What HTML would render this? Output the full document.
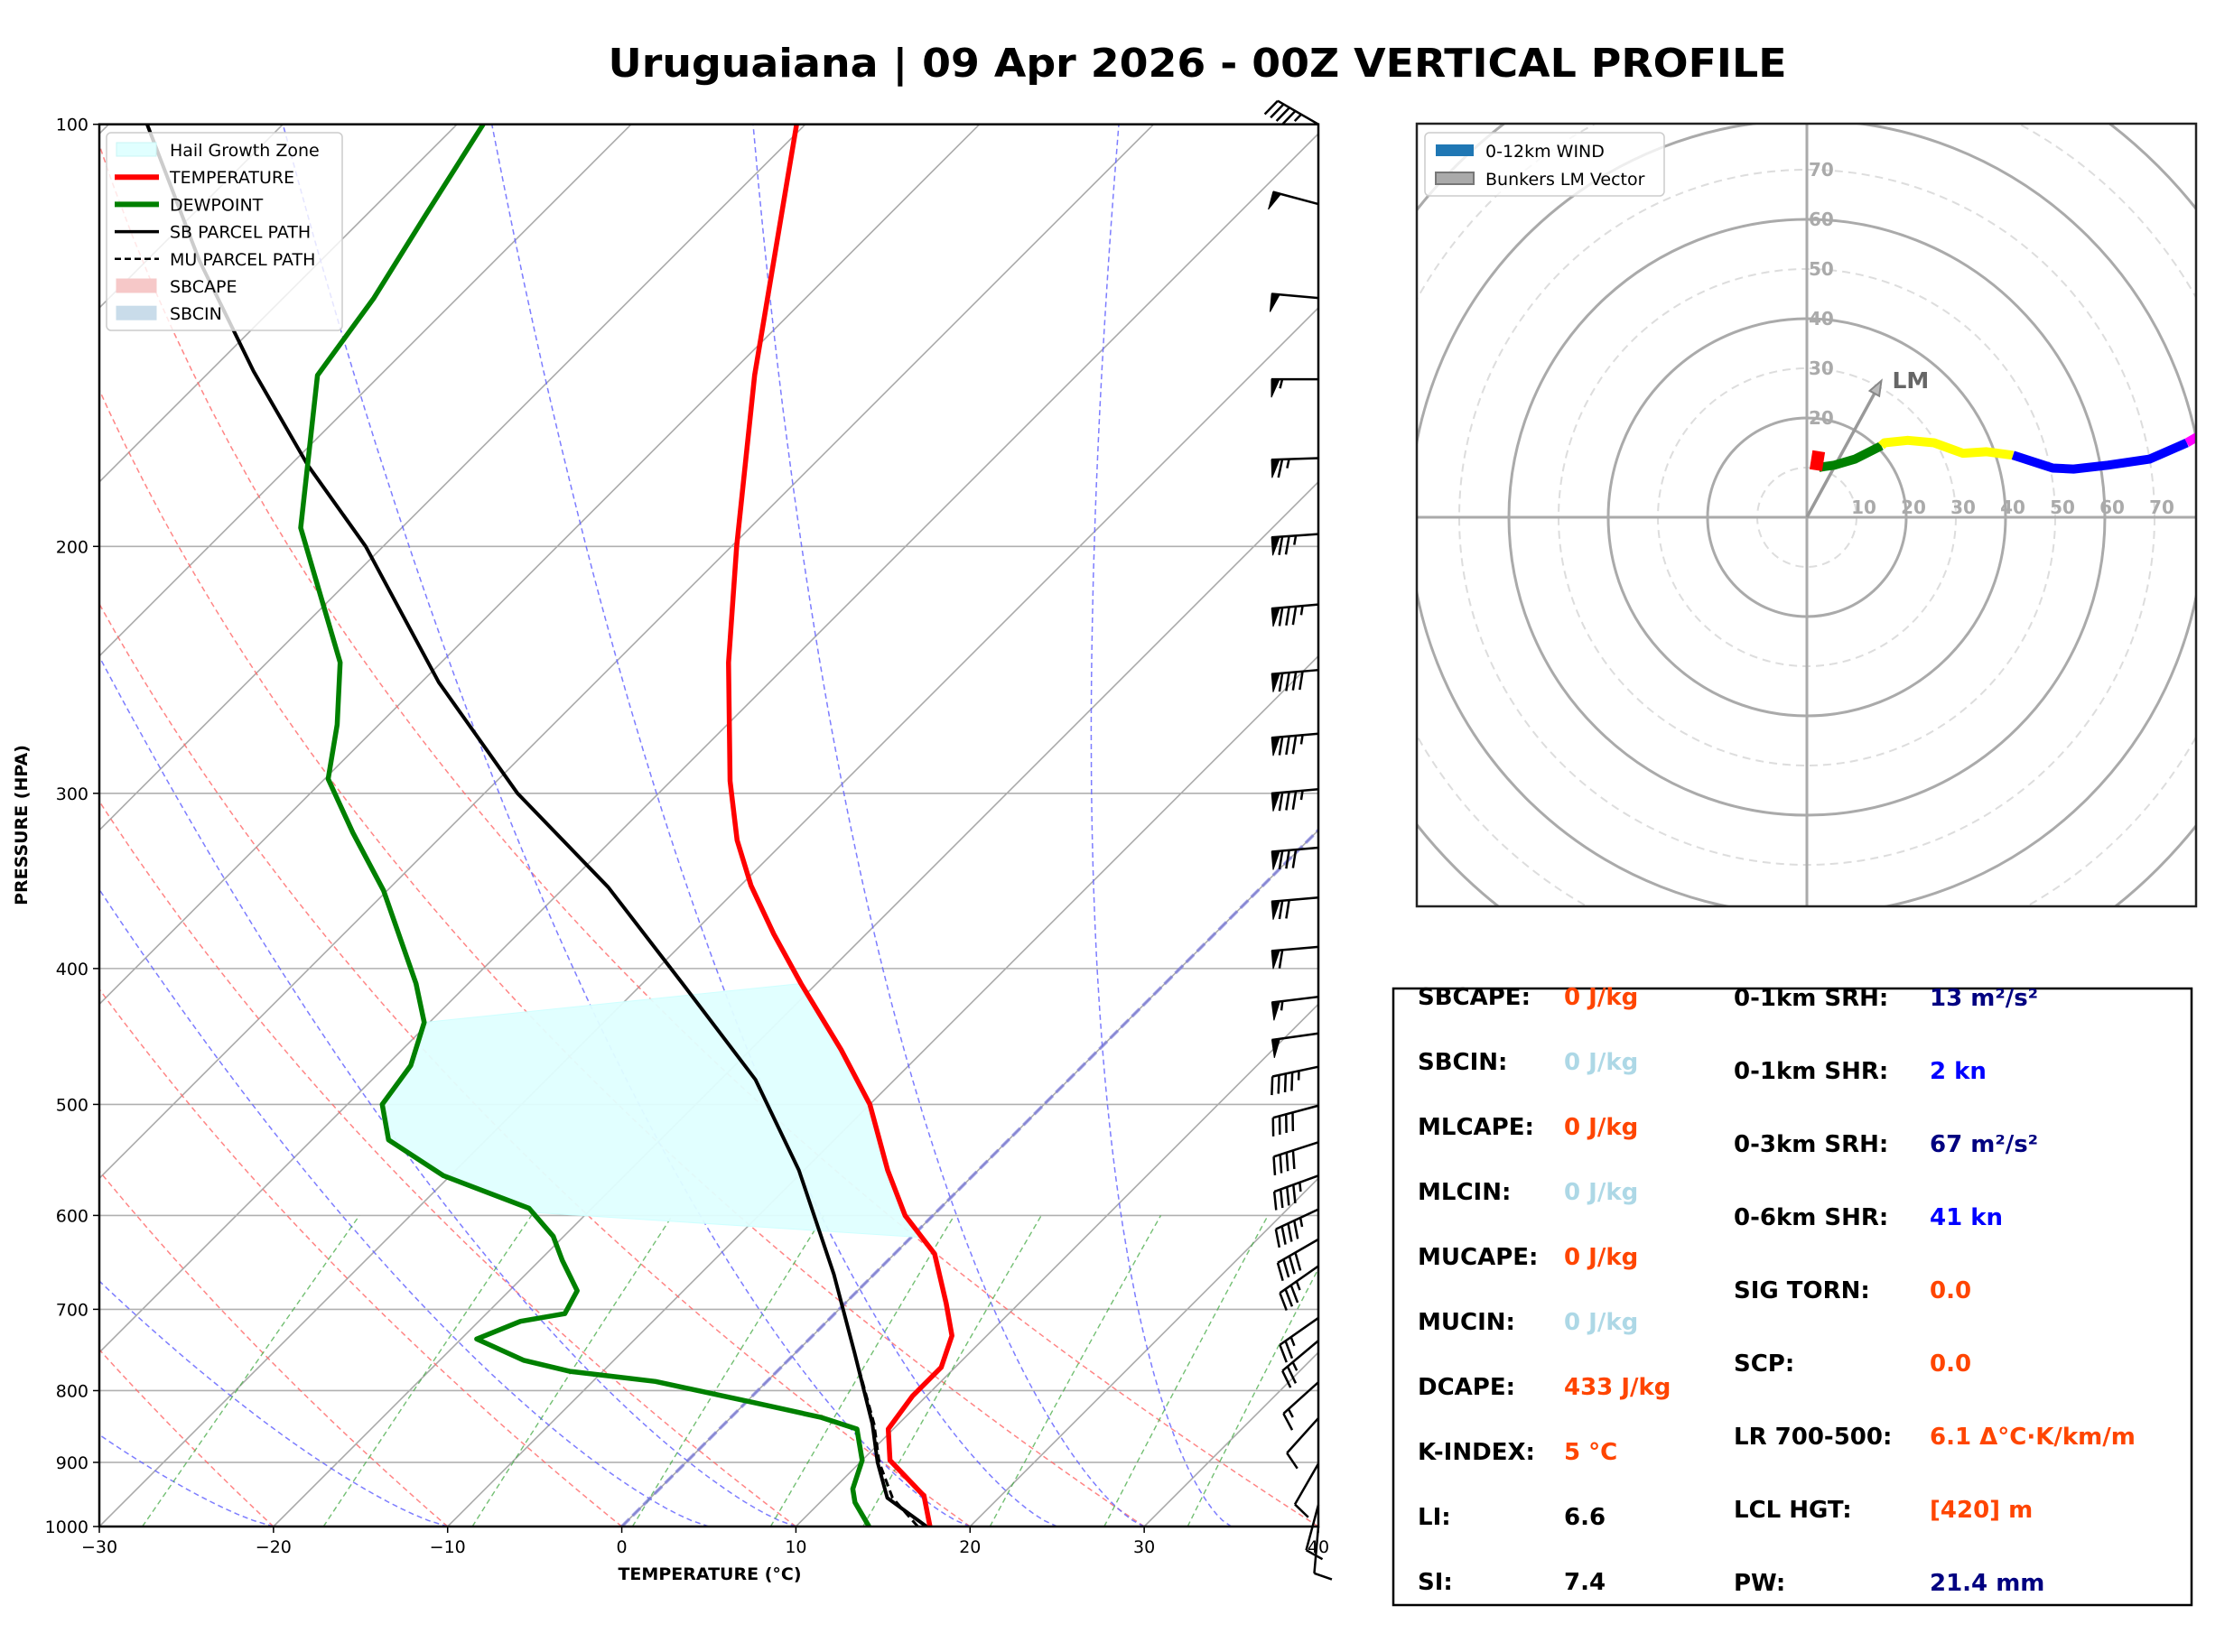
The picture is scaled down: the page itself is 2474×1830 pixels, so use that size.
<!DOCTYPE html>
<html><head><meta charset="utf-8"><style>
html,body{margin:0;padding:0;background:#fff;}
svg{display:block;font-family:"DejaVu Sans","Liberation Sans",sans-serif;}
</style></head><body>
<svg id="fig" xmlns="http://www.w3.org/2000/svg" width="2474" height="1830" viewBox="0 0 2474 1830">
<defs>
<clipPath id="skewclip"><rect x="110" y="137.7" width="1350" height="1553.3"/></clipPath>
<clipPath id="hodoclip"><rect x="1569" y="137" width="863" height="867"/></clipPath>
</defs>
<rect width="2474" height="1830" fill="#fff"/>
<text x="1326" y="85" font-size="44" font-weight="bold" text-anchor="middle" textLength="1305" lengthAdjust="spacingAndGlyphs">Uruguaiana | 09 Apr 2026 - 00Z VERTICAL PROFILE</text>
<g id="skew"></g>
<g id="hodo"></g>
<g id="stats">
<rect x="1543" y="1095" width="884" height="683" fill="none" stroke="#000" stroke-width="2.5"/>
<g font-size="26" font-weight="bold">
<text x="1570" y="1113">SBCAPE:</text><text x="1732" y="1113" fill="#ff4500">0 J/kg</text>
<text x="1570" y="1185">SBCIN:</text><text x="1732" y="1185" fill="#add8e6">0 J/kg</text>
<text x="1570" y="1257">MLCAPE:</text><text x="1732" y="1257" fill="#ff4500">0 J/kg</text>
<text x="1570" y="1329">MLCIN:</text><text x="1732" y="1329" fill="#add8e6">0 J/kg</text>
<text x="1570" y="1401">MUCAPE:</text><text x="1732" y="1401" fill="#ff4500">0 J/kg</text>
<text x="1570" y="1473">MUCIN:</text><text x="1732" y="1473" fill="#add8e6">0 J/kg</text>
<text x="1570" y="1545">DCAPE:</text><text x="1732" y="1545" fill="#ff4500">433 J/kg</text>
<text x="1570" y="1617">K-INDEX:</text><text x="1732" y="1617" fill="#ff4500">5 °C</text>
<text x="1570" y="1689">LI:</text><text x="1732" y="1689" fill="#000">6.6</text>
<text x="1570" y="1761">SI:</text><text x="1732" y="1761" fill="#000">7.4</text>
<text x="1920" y="1114">0-1km SRH:</text><text x="2137" y="1114" fill="#000080">13 m²/s²</text>
<text x="1920" y="1195">0-1km SHR:</text><text x="2137" y="1195" fill="#0000ff">2 kn</text>
<text x="1920" y="1276">0-3km SRH:</text><text x="2137" y="1276" fill="#000080">67 m²/s²</text>
<text x="1920" y="1357">0-6km SHR:</text><text x="2137" y="1357" fill="#0000ff">41 kn</text>
<text x="1920" y="1438">SIG TORN:</text><text x="2137" y="1438" fill="#ff4500">0.0</text>
<text x="1920" y="1519">SCP:</text><text x="2137" y="1519" fill="#ff4500">0.0</text>
<text x="1920" y="1600">LR 700-500:</text><text x="2137" y="1600" fill="#ff4500">6.1 Δ°C·K/km/m</text>
<text x="1920" y="1681">LCL HGT:</text><text x="2137" y="1681" fill="#ff4500">[420] m</text>
<text x="1920" y="1762">PW:</text><text x="2137" y="1762" fill="#000080">21.4 mm</text>
</g>
</g>
</svg>
<script>
// ---- Sounding data ----
const tempP = [1000,951,897,852,807,770,731,693,639,600,557,500,457,410,378,349,324,294,242,200,151,100];
const tempT = [17.7,15.6,11.6,9.7,9.2,9.2,8.0,5.8,2.3,-1.6,-5.2,-10.0,-14.8,-20.9,-25.3,-29.4,-32.8,-36.6,-43.5,-49.7,-58.5,-70.5];
const dewP = [1000,961,940,897,852,836,816,788,775,761,735,714,705,679,646,621,593,562,530,500,469,437,410,352,320,293,268,242,194,151,133,116,100];
const dewT = [14.2,12.0,11.1,10.0,7.9,5.2,0.5,-6.4,-11.9,-15.2,-19.1,-17.6,-15.5,-16.1,-18.7,-20.6,-23.6,-30.4,-35.6,-38.0,-38.6,-40.3,-43.0,-50.2,-55.3,-59.8,-62.4,-65.8,-75.8,-83.6,-84.8,-86.6,-88.5];
const parcelP = [1000,954,900,845,752,661,557,480,410,350,300,250,200,175,150,125,100];
const parcelT = [17.5,13.6,11.0,8.5,3.4,-2.3,-10.3,-18.0,-27.7,-37.5,-48.1,-59.0,-71.0,-79.0,-87.5,-97.0,-107.8];
const muParcelT = [17.0,13.9,11.1,8.6,3.4,-2.3,-10.3,-18.0,-27.7,-37.5,-48.1,-59.0,-71.0,-79.0,-87.5,-97.0,-107.8];
const hailTop = [437,410];
const hailBottom = [597,622];
const barbP = [100,114,133,152,173,196,220,245,272,298,328,356,386,419,445,470,501,532,562,594,624,652,710,737,789,837,902,965,1000];
const barbSpd = [45,50,50,55,65,75,85,90,85,85,80,70,60,55,50,45,40,40,45,45,40,35,25,25,15,10,10,10,10];
const barbDir = [300,285,275,270,268,266,265,265,265,265,265,265,265,263,262,258,255,252,250,245,240,235,235,230,228,222,210,195,185];
const pTicks = [100,200,300,400,500,600,700,800,900,1000];
const tTicks = [-30,-20,-10,0,10,20,30,40];
const moistT0 = [35,30,25,20,10,5,-10,-20];
const moistTop = [-52,-73,-88,-100,-125,-135,-160,-175];
// ---- Hodograph data (kt) ----
const hodoRedU = [1.8,2.4];
const hodoRedV = [9.5,13.3];
const hodoGreenU = [2.4,3.4,5.5,9.7,15.0];
const hodoGreenV = [10.0,10.2,10.5,11.7,14.4];
const hodoYellowU = [15.0,15.6,20.3,25.6,31.4,36.2,41.5];
const hodoYellowV = [14.4,15.0,15.5,15.0,12.9,13.2,12.5];
const hodoBlueU = [41.5,49.5,53.7,60.6,69.0,76.5];
const hodoBlueV = [12.5,9.9,9.7,10.5,11.7,15.0];
const hodoMagU = [76.5,79.6,84];
const hodoMagV = [15.0,16.8,19];
const lmU = 15.0, lmV = 27.5;
const ringKt = [10,20,30,40,50,60,70,80,90,100];

const NS='http://www.w3.org/2000/svg';
function mk(tag, attrs, parent){const e=document.createElementNS(NS,tag);for(const k in attrs)e.setAttribute(k,attrs[k]);parent.appendChild(e);return e;}
const X0=110,X1=1460,Y0=137.7,Y1=1691;
function yP(p){return Y1-Math.log10(1000/p)*(Y1-Y0);}
function xT(T,p){return X0+(T+30)/70*(X1-X0)+(Y1-yP(p));}
function pathFrom(ps,ts){return ps.map((p,i)=>(i?'L':'M')+xT(ts[i],p).toFixed(1)+','+yP(p).toFixed(1)).join('');}
function interp(ps,ts,p){for(let i=0;i<ps.length-1;i++){const a=ps[i],b=ps[i+1];if((p<=a&&p>=b)){const f=Math.log(p/a)/Math.log(b/a);return ts[i]+f*(ts[i+1]-ts[i]);}}return ts[ts.length-1];}

const skew=document.getElementById('skew');
const clipG=mk('g',{'clip-path':'url(#skewclip)'},skew);


for(const p of pTicks){const l=mk('line',{x1:X0,x2:X1,y1:yP(p),y2:yP(p),stroke:'#b0b0b0','stroke-width':1.6},clipG);

}
for(let T=-130;T<=40;T+=10){const l=mk('line',{x1:xT(T,1000),y1:Y1,x2:xT(T,100),y2:Y0,stroke:'#aaaaaa','stroke-width':1.6},clipG);

}
for(let th=-30;th<=40;th+=10){let d='';for(let p=1000;p>=100;p-=10){const T=(th+273.15)*Math.pow(p/1000,0.2857)-273.15;d+=(p==1000?'M':'L')+xT(T,p).toFixed(1)+','+yP(p).toFixed(1);}
const e=mk('path',{d:d,fill:'none',stroke:'#ff6666','stroke-width':1.5,'stroke-dasharray':'6,4',opacity:0.8},clipG);

}
moistT0.forEach((t0,i)=>{let d='';for(let p=1000;p>=100;p-=10){const s=Math.log10(1000/p);const T=t0+(moistTop[i]-t0)*Math.pow(s,0.85);d+=(p==1000?'M':'L')+xT(T,p).toFixed(1)+','+yP(p).toFixed(1);}
const e=mk('path',{d:d,fill:'none',stroke:'#6666ff','stroke-width':1.5,'stroke-dasharray':'6,4',opacity:0.85},clipG);

});
for(const w of [0.0004,0.001,0.002,0.004,0.007,0.01,0.016,0.024,0.032]){let d='';for(let p=1000;p>=600;p-=20){const e_=w*p/(0.622+w);const l=Math.log(e_/6.112);const Td=243.5*l/(17.67-l);d+=(p==1000?'M':'L')+xT(Td,p).toFixed(1)+','+yP(p).toFixed(1);}
const e=mk('path',{d:d,fill:'none',stroke:'#44aa44','stroke-width':1.4,'stroke-dasharray':'6,4',opacity:0.75},clipG);

}
const zl=mk('line',{x1:xT(0,1000),y1:Y1,x2:xT(0,100),y2:Y0,stroke:'#7777dd','stroke-width':3.5,'stroke-dasharray':'12,5',opacity:0.7},clipG);


{let pts=[];const steps=24;
for(let i=0;i<=steps;i++){const p=hailTop[0]+(hailBottom[0]-hailTop[0])*i/steps;pts.push([xT(interp(dewP,dewT,p),p),yP(p)]);}
for(let i=0;i<=steps;i++){const p=hailBottom[1]+(hailTop[1]-hailBottom[1])*i/steps;pts.push([xT(interp(tempP,tempT,p),p),yP(p)]);}
const hz=mk('polygon',{points:pts.map(q=>q[0].toFixed(1)+','+q[1].toFixed(1)).join(' '),fill:'#e0ffff',stroke:'#ccffff','stroke-width':1,opacity:0.95},clipG);

}
let e;
e=mk('path',{d:pathFrom(parcelP,muParcelT),fill:'none',stroke:'#000','stroke-width':3,'stroke-dasharray':'9,5'},clipG);


e=mk('path',{d:pathFrom(parcelP,parcelT),fill:'none',stroke:'#000','stroke-width':4,'stroke-linejoin':'round'},clipG);


e=mk('path',{d:pathFrom(tempP,tempT),fill:'none',stroke:'#ff0000','stroke-width':5.5,'stroke-linejoin':'round'},clipG);


e=mk('path',{d:pathFrom(dewP,dewT),fill:'none',stroke:'#008000','stroke-width':5.5,'stroke-linejoin':'round'},clipG);


e=mk('rect',{x:X0,y:Y0,width:X1-X0,height:Y1-Y0,fill:'none',stroke:'#000','stroke-width':2.5},skew);


for(const p of pTicks){mk('line',{x1:X0-7,x2:X0,y1:yP(p),y2:yP(p),stroke:'#000','stroke-width':1.5},skew);
const t=mk('text',{x:X0-12,y:yP(p)+7,'font-size':19,'text-anchor':'end'},skew);t.textContent=p;

}
for(const T of tTicks){const x=xT(T,1000);mk('line',{x1:x,x2:x,y1:Y1,y2:Y1+7,stroke:'#000','stroke-width':1.5},skew);
const t=mk('text',{x:x,y:Y1+29,'font-size':19,'text-anchor':'middle'},skew);t.textContent=(T<0?'\u2212'+(-T):T);

}
e=mk('text',{x:786,y:1750,'font-size':19,'font-weight':'bold','text-anchor':'middle'},skew);e.textContent='TEMPERATURE (°C)';


e=mk('text',{x:0,y:0,'font-size':19,'font-weight':'bold','text-anchor':'middle',transform:'translate(30,914) rotate(-90)'},skew);e.textContent='PRESSURE (HPA)';


function barb(bx,by,spd,dir,parent){const L=52;const r=dir*Math.PI/180;const dx=Math.sin(r),dy=-Math.cos(r);
const px=dy,py=-dx;const tx=bx+dx*L,ty=by+dy*L;const g=mk('g',{},parent);


mk('line',{x1:bx,y1:by,x2:tx,y2:ty,stroke:'#000','stroke-width':2.5},g);
let s=Math.round(spd/5)*5;let pos=0;const H=20,W=9,sp=7.5;
while(s>=50){const a=[tx-dx*pos,ty-dy*pos];const b=[a[0]+px*H,a[1]+py*H];const c=[tx-dx*(pos+W),ty-dy*(pos+W)];
mk('polygon',{points:a.join(',')+' '+b.join(',')+' '+c.join(','),fill:'#000',stroke:'#000','stroke-width':1},g);pos+=W+3;s-=50;}
while(s>=10){const a=[tx-dx*pos,ty-dy*pos];mk('line',{x1:a[0],y1:a[1],x2:a[0]+px*H+dx*5,y2:a[1]+py*H+dy*5,stroke:'#000','stroke-width':2.5},g);pos+=sp;s-=10;}
if(s>=5){if(pos==0)pos=sp;const a=[tx-dx*pos,ty-dy*pos];mk('line',{x1:a[0],y1:a[1],x2:a[0]+px*H/2+dx*2.5,y2:a[1]+py*H/2+dy*2.5,stroke:'#000','stroke-width':2.5},g);}}
const barbG=mk('g',{},skew);


barbP.forEach((p,i)=>barb(X1,yP(p),barbSpd[i],barbDir[i],barbG));
{const lg=mk('g',{},skew);


mk('rect',{x:118,y:147,width:261,height:219,rx:5,fill:'#fff','fill-opacity':0.8,stroke:'#cccccc','stroke-width':1.5},lg);
const items=[['patch','#e0ffff','Hail Growth Zone'],['line','#ff0000','TEMPERATURE'],['line','#008000','DEWPOINT'],['line','#000','SB PARCEL PATH'],['dash','#000','MU PARCEL PATH'],['patch','#f6c8c8','SBCAPE'],['patch','#c9dcea','SBCIN']];
items.forEach((it,i)=>{const y=166+i*30.2;
if(it[0]=='patch')mk('rect',{x:129,y:y-8,width:44,height:15,fill:it[1],stroke:it[1]=='#e0ffff'?'#c8f4f4':it[1]},lg);
else mk('line',{x1:127,x2:176,y1:y,y2:y,stroke:it[1],'stroke-width':it[0]=='dash'?2.5:(i==3?3.5:6),'stroke-dasharray':it[0]=='dash'?'7,4':'none'},lg);
const t=mk('text',{x:188,y:y+7,'font-size':19},lg);t.textContent=it[2];

});}

// ---- Hodograph ----
const hodo=document.getElementById('hodo');
const CX=2001,CY=573,K=5.5;
const hc=mk('g',{'clip-path':'url(#hodoclip)'},hodo);


ringKt.forEach(r=>{const solid=r%20==0;const c=mk('circle',{cx:CX,cy:CY,r:r*K,fill:'none',stroke:solid?'#aaaaaa':'#dddddd','stroke-width':solid?3:2,'stroke-dasharray':solid?'none':'9,6'},hc);

});
mk('line',{x1:1569,x2:2432,y1:CY,y2:CY,stroke:'#aaaaaa','stroke-width':3},hc);
mk('line',{x1:CX,x2:CX,y1:137,y2:1004,stroke:'#aaaaaa','stroke-width':3},hc);
[10,20,30,40,50,60,70].forEach(r=>{let t=mk('text',{x:CX+r*K+8,y:CY-4,'font-size':20,'font-weight':'bold',fill:'#aaaaaa','text-anchor':'middle'},hc);t.textContent=r;


if(r>=20){t=mk('text',{x:CX+2,y:CY-r*K+7,'font-size':20,'font-weight':'bold',fill:'#aaaaaa'},hc);t.textContent=r;

}});
{const ax=CX+lmU*K,ay=CY-lmV*K;const ang=Math.atan2(ay-CY,ax-CX);
e=mk('line',{x1:CX,y1:CY,x2:ax-Math.cos(ang)*12,y2:ay-Math.sin(ang)*12,stroke:'#999','stroke-width':3.5},hc);


const hx=ax,hy=ay,bx=ax-Math.cos(ang)*16,by=ay-Math.sin(ang)*16,nx=-Math.sin(ang)*6,ny=Math.cos(ang)*6;
mk('polygon',{points:`${hx},${hy} ${bx+nx},${by+ny} ${bx-nx},${by-ny}`,fill:'#bbb',stroke:'#888','stroke-width':2},hc);
e=mk('text',{x:ax+12,y:ay+8,'font-size':25,'font-weight':'bold',fill:'#666'},hc);e.textContent='LM';

}
function hseg(us,vs,col,name,w){const d=us.map((u,i)=>(i?'L':'M')+(CX+u*K).toFixed(1)+','+(CY-vs[i]*K).toFixed(1)).join('');
const p=mk('path',{d:d,fill:'none',stroke:col,'stroke-width':w||10,'stroke-linejoin':'round'},hc);

}
hseg(hodoGreenU,hodoGreenV,'#008000','hodo-segment-green');
hseg(hodoYellowU,hodoYellowV,'#ffff00','hodo-segment-yellow');
hseg(hodoBlueU,hodoBlueV,'#0000ff','hodo-segment-blue');
hseg(hodoMagU,hodoMagV,'#ff00ff','hodo-segment-magenta');
hseg(hodoRedU,hodoRedV,'#ff0000','hodo-segment-red',14);
e=mk('rect',{x:1569,y:137,width:863,height:867,fill:'none',stroke:'#222','stroke-width':2.5},hodo);


{const lg=mk('g',{},hodo);


mk('rect',{x:1578,y:147,width:265,height:70,rx:5,fill:'#fff','fill-opacity':0.8,stroke:'#cccccc','stroke-width':1.5},lg);
mk('rect',{x:1590,y:160,width:42,height:13,fill:'#1f77b4'},lg);
mk('rect',{x:1590,y:191,width:42,height:13,fill:'#aaaaaa',stroke:'#777','stroke-width':2},lg);
let t=mk('text',{x:1645,y:174,'font-size':19},lg);t.textContent='0-12km WIND';


t=mk('text',{x:1645,y:205,'font-size':19},lg);t.textContent='Bunkers LM Vector';

}
</script>
</body></html>
